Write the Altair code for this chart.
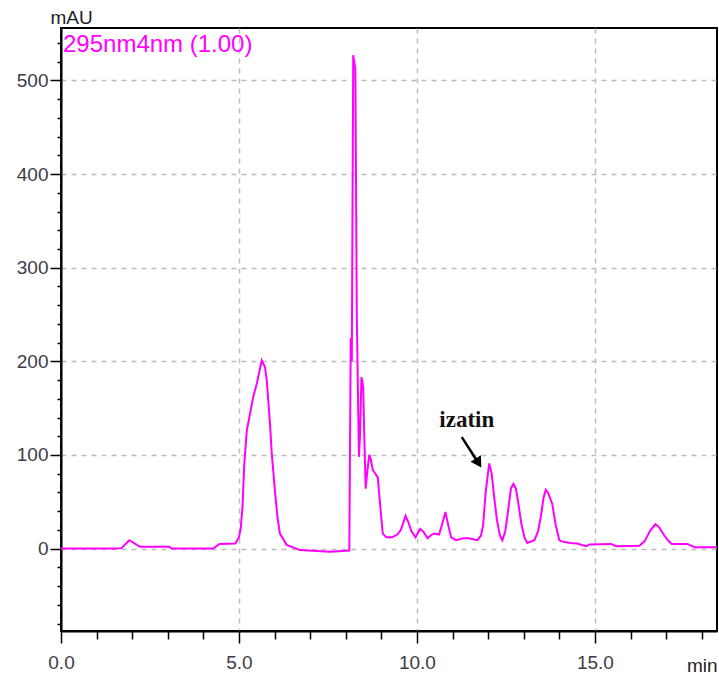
import altair as alt
import pandas as pd

# Chromatogram trace: retention time (min) and detector response (mAU)
time_min = [
    0.00, 1.55, 1.70, 1.92, 2.22, 3.05, 3.10, 4.28, 4.45, 4.90,
    5.00, 5.05, 5.10, 5.15, 5.22, 5.31, 5.40, 5.50, 5.64, 5.73,
    5.78, 5.87, 5.92, 6.01, 6.08, 6.15, 6.34, 6.71, 7.56, 8.10,
    8.14, 8.17, 8.21, 8.27, 8.31, 8.37, 8.40, 8.44, 8.47, 8.49,
    8.52, 8.56, 8.60, 8.66, 8.70, 8.76, 8.90, 8.97, 9.04, 9.14,
    9.30, 9.45, 9.55, 9.68, 9.76, 9.84, 9.96, 10.09, 10.18, 10.30,
    10.42, 10.49, 10.62, 10.70, 10.80, 10.88, 10.96, 11.10, 11.30, 11.45,
    11.70, 11.80, 11.86, 11.93, 12.03, 12.10, 12.17, 12.25, 12.33, 12.40,
    12.48, 12.56, 12.64, 12.71, 12.78, 12.85, 12.93, 13.02, 13.10, 13.30,
    13.40, 13.48, 13.56, 13.62, 13.68, 13.80, 13.90, 14.00, 14.04, 14.30,
    14.50, 14.75, 14.85, 15.45, 15.60, 16.25, 16.40, 16.55, 16.70, 16.80,
    16.95, 17.07, 17.16, 17.60, 17.80, 18.43,
]
absorbance_mau = [
    0, 0, 0.5, 9, 2, 2, 0, 0, 5, 5.5,
    12, 22, 45, 91, 126, 144, 162, 176, 201, 194,
    180, 134, 102, 62, 34, 16, 4, -1.6, -3.4, -2,
    225, 200, 527, 512, 250, 98, 120, 183, 178, 172,
    120, 64, 80, 100, 96, 84, 76, 45, 16, 12,
    12, 15, 20, 35, 28, 19, 12, 21, 18, 11,
    15, 16, 15, 25, 39, 25, 12, 9, 11, 11,
    9, 14, 25, 60, 91, 80, 55, 30, 14, 9,
    18, 40, 64, 69, 64, 48, 27, 12, 6, 9,
    18, 34, 55, 63, 60, 48, 25, 9, 8, 6,
    5.5, 2.5, 4.5, 5, 2.5, 3, 8, 19, 26, 23,
    14, 8, 5, 5, 1.5, 1.5,
]

channel_label = ["295nm4nm (1.00)"]
peak_label = ["izatin"]
peak_label_pos = [11.40, 129.7]
arrow_from = [11.26, 119.0]
arrow_to = [11.70, 93.0]
arrow_head = [11.73, 91.3]

x_ticks = list(range(0, 19))
y_ticks = list(range(-80, 560, 20))

trace = pd.DataFrame({"t": time_min, "v": absorbance_mau})

MAGENTA = "#ff00ff"
LABEL_FONT = "Liberation Sans, Arial, sans-serif"

x_scale = alt.Scale(domain=[0, 18.43], nice=False, zero=False)
y_scale = alt.Scale(domain=[-88, 556], nice=False, zero=False)

x_axis = alt.Axis(
    values=x_ticks,
    labelExpr="datum.value % 5 === 0 ? format(datum.value, '.1f') : ''",
    labelOverlap=False,
    labelFlush=False,
    tickSize={"condition": {"test": "datum.value % 5 === 0", "value": 12}, "value": 8},
    gridOpacity={"condition": {"test": "datum.value % 5 === 0", "value": 1}, "value": 0},
    labelPadding=10,
    title="min",
    titleX=656,
    titleY=34,
    titleAlign="right",
    titleBaseline="middle",
    titleAnchor="end",
)
y_axis = alt.Axis(
    values=y_ticks,
    labelExpr="datum.value % 100 === 0 ? format(datum.value, 'd') : ''",
    labelOverlap=False,
    labelFlush=False,
    tickSize={"condition": {"test": "datum.value % 100 === 0", "value": 11}, "value": 4},
    gridOpacity={"condition": {"test": "datum.value % 100 === 0", "value": 1}, "value": 0},
    labelPadding=2,
    title="mAU",
    titleAngle=0,
    titleX=-11,
    titleY=-1,
    titleAlign="left",
    titleBaseline="bottom",
)

X = alt.X("t:Q", scale=x_scale, axis=x_axis)
Y = alt.Y("v:Q", scale=y_scale, axis=y_axis)

line = alt.Chart(trace).mark_line(
    color=MAGENTA, strokeWidth=2, clip=True, interpolate="linear"
).encode(x=X, y=Y)

peak_text = alt.Chart(
    pd.DataFrame({"t": [peak_label_pos[0]], "v": [peak_label_pos[1]], "label": peak_label})
).mark_text(
    font="Liberation Serif, Times New Roman, serif",
    fontWeight="bold",
    fontSize=23,
    color="#111111",
    align="center",
    baseline="alphabetic",
).encode(x=X, y=Y, text="label:N")

arrow_shaft = alt.Chart(
    pd.DataFrame({"t": [arrow_from[0]], "v": [arrow_from[1]],
                  "t2": [arrow_to[0]], "v2": [arrow_to[1]]})
).mark_rule(color="black", strokeWidth=2.5).encode(x=X, y=Y, x2="t2:Q", y2="v2:Q")

arrow_tip = alt.Chart(
    pd.DataFrame({"t": [arrow_head[0]], "v": [arrow_head[1]]})
).mark_point(
    shape="triangle-up", filled=True, color="black", size=150, angle=148, opacity=1
).encode(x=X, y=Y)

channel_text = alt.Chart(pd.DataFrame({"label": channel_label})).mark_text(
    font=LABEL_FONT,
    fontSize=24,
    color=MAGENTA,
    align="left",
    baseline="middle",
).encode(
    x=alt.value(2),
    y=alt.value(17),
    text="label:N",
)

chart = alt.layer(line, peak_text, arrow_shaft, arrow_tip, channel_text).properties(
    width=656,
    height=603,
    padding={"left": 61, "top": 28, "right": 2, "bottom": 55},
    autosize=alt.AutoSizeParams(type="none"),
    background="white",
).configure_view(
    stroke="black",
    strokeWidth=2,
).configure_axis(
    domainColor="black",
    domainWidth=2,
    tickColor="black",
    tickWidth=1.5,
    gridColor="#bdbdbd",
    gridDash=[5, 5],
    gridWidth=1.5,
    labelFont=LABEL_FONT,
    labelFontSize=19,
    labelColor="#3c3c48",
    titleFont=LABEL_FONT,
    titleFontSize=19,
    titleFontWeight="normal",
    titleColor="#222222",
)

chart.save("out.html", embed_options={"renderer": "svg", "actions": False})
